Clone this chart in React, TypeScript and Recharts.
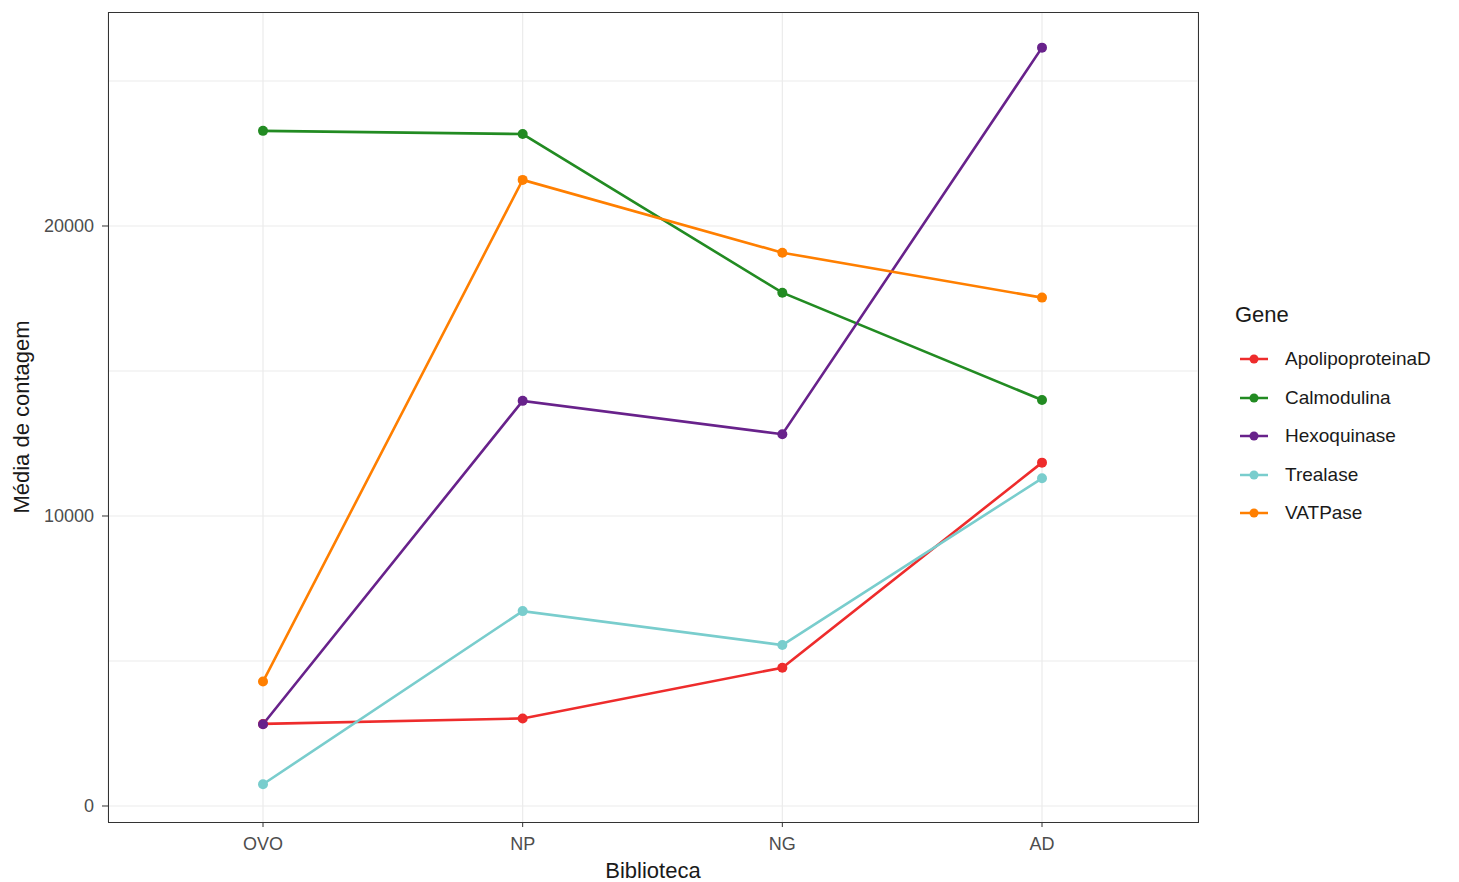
import React from 'react';
import { LineChart, Line, XAxis, YAxis, CartesianGrid } from 'recharts';

const categories = ['OVO', 'NP', 'NG', 'AD'];

const apolipoproteinaD = [2830, 3020, 4770, 11840];
const calmodulina = [23280, 23170, 17700, 14000];
const hexoquinase = [2820, 13970, 12820, 26150];
const trealase = [750, 6720, 5550, 11300];
const vatpase = [4290, 21590, 19080, 17530];

const yTicks = [0, 10000, 20000];
const gridValues = [0, 5000, 10000, 15000, 20000, 25000];

const series = [
  { key: 'ApolipoproteinaD', values: apolipoproteinaD, color: '#EE2C2C' },
  { key: 'Calmodulina', values: calmodulina, color: '#228B22' },
  { key: 'Hexoquinase', values: hexoquinase, color: '#68228B' },
  { key: 'Trealase', values: trealase, color: '#79CDCD' },
  { key: 'VATPase', values: vatpase, color: '#FF7F00' },
];

const data = categories.map((name, i) => {
  const row: any = { name };
  series.forEach((s) => {
    row[s.key] = s.values[i];
  });
  return row;
});

const font = '"Liberation Sans", Arial, sans-serif';

const GeneLegend = () => (
  <div style={{ position: 'absolute', left: 1235, top: 302, fontFamily: font }}>
    <div style={{ fontSize: 22, color: '#1a1a1a', marginBottom: 12 }}>Gene</div>
    {series.map((s) => (
      <div key={s.key} style={{ display: 'flex', alignItems: 'center', height: 38.5 }}>
        <svg width={40} height={20}>
          <line x1={5} y1={10} x2={33} y2={10} stroke={s.color} strokeWidth={2.5} />
          <circle cx={19} cy={10} r={4.5} fill={s.color} />
        </svg>
        <span style={{ fontSize: 19, color: '#1a1a1a', marginLeft: 10 }}>{s.key}</span>
      </div>
    ))}
  </div>
);

const App: React.FC = () => {
  return (
    <div style={{ position: 'absolute', left: 0, top: 0, width: 1459, height: 882, background: '#fff' }}>
      <LineChart
        width={1459}
        height={882}
        data={data}
        margin={{ top: 12, right: 261, bottom: 0, left: 0 }}
        style={{ fontFamily: font }}
      >
        <CartesianGrid stroke="#EBEBEB" strokeWidth={1.2} horizontalValues={gridValues} />
        <XAxis
          dataKey="name"
          height={60}
          padding={{ left: 155, right: 156 }}
          axisLine={false}
          tickLine={{ stroke: '#333333' }}
          tickSize={5}
          tickMargin={10}
          tick={{ fill: '#4D4D4D', fontSize: 18 }}
          label={{ value: 'Biblioteca', position: 'insideBottom', offset: 4, fill: '#1a1a1a', fontSize: 22 }}
        />
        <YAxis
          width={108}
          domain={[-552, 27379]}
          ticks={yTicks}
          axisLine={false}
          tickLine={{ stroke: '#333333' }}
          tickSize={6}
          tickMargin={8}
          tick={{ fill: '#4D4D4D', fontSize: 18 }}
          label={{ value: 'Média de contagem', angle: -90, position: 'insideLeft', offset: 21, fill: '#1a1a1a', fontSize: 22, style: { textAnchor: 'middle' } }}
        />
        {series.map((s) => (
          <Line
            key={s.key}
            dataKey={s.key}
            stroke={s.color}
            strokeWidth={2.6}
            dot={{ r: 5, fill: s.color, stroke: s.color, strokeWidth: 0 }}
            isAnimationActive={false}
          />
        ))}
      </LineChart>
      <div
        style={{
          position: 'absolute',
          left: 107.5,
          top: 11.5,
          width: 1091,
          height: 811,
          boxSizing: 'border-box',
          border: '1px solid #333333',
          pointerEvents: 'none',
        }}
      />
      <GeneLegend />
    </div>
  );
};

export default App;
